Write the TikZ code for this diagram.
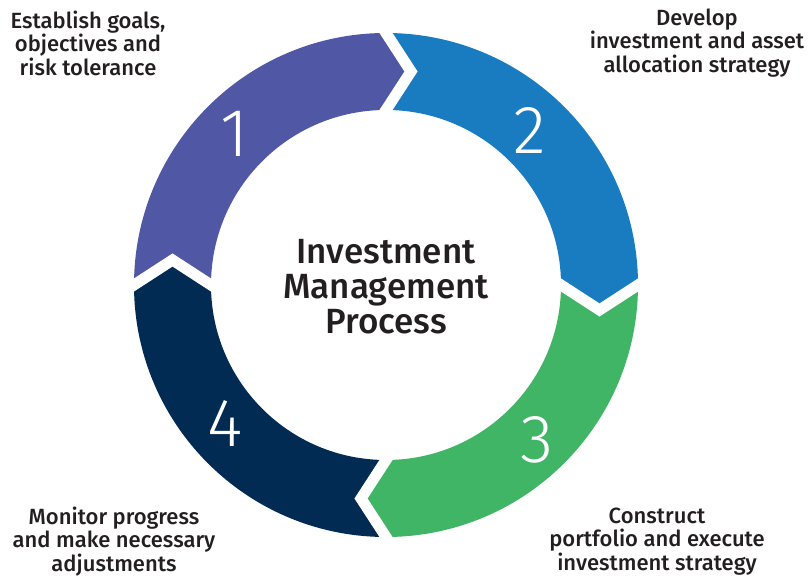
\documentclass[tikz,border=0pt]{standalone}
\usepackage{fontspec}
\setmainfont{Fira Sans}
\newfontfamily\medfont{Fira Sans Medium}
\newfontfamily\lightfont{Fira Sans Light}
\usetikzlibrary{calc}
\definecolor{cpurple}{HTML}{5058A6}
\definecolor{cblue}{HTML}{197CC1}
\definecolor{cgreen}{HTML}{40B565}
\definecolor{cnavy}{HTML}{012B52}
\definecolor{textgray}{HTML}{231F20}
\tikzset{
  lbl/.style={align=center, text=textgray, inner sep=0pt, font=\medfont\fontsize{22}{23.5}\selectfont},
  title/.style={align=center, text=textgray, inner sep=0pt, font=\medfont\fontsize{35}{35}\selectfont},
  digit/.style={text=white, inner sep=0pt, font=\lightfont\fontsize{68}{68}\selectfont},
  chev/.style={white, line width=11pt, line join=miter, shorten <=-8pt, shorten >=-8pt}
}
\newcommand{\ringseg}[3]{%
  \pgfmathsetmacro{\ta}{#2-90}\pgfmathsetmacro{\tb}{#3-90}%
  \fill[#1] ($(C)+(#2:252pt)$) arc[start angle=#2, end angle=#3, radius=252pt]
    -- ($(C)+(#3:213.5pt)+(\tb:25pt)$) -- ($(C)+(#3:175pt)$)
    arc[start angle=#3, end angle=#2, radius=175pt]
    -- ($(C)+(#2:213.5pt)+(\ta:25pt)$) -- cycle;}
\begin{document}
\begin{tikzpicture}[x=1pt,y=1pt]
\path[use as bounding box] (0,0) rectangle (812,577);
\coordinate (C) at (386,292);
\ringseg{cpurple}{180}{90}
\ringseg{cblue}{90}{0}
\ringseg{cgreen}{0}{-90}
\ringseg{cnavy}{-90}{-180}
\foreach \t in {90,0,-90,180}{
  \pgfmathsetmacro{\tt}{\t-90}
  \draw[chev] ($(C)+(\t:252pt)$) -- ($(C)+(\t:213.5pt)+(\tt:25pt)$) -- ($(C)+(\t:175pt)$);
}
\node[digit] (d1) at (235,443) {1};
\node[digit] (d2) at (530,446) {2};
\node[digit] (d3) at (537,137) {3};
\node[digit] (d4) at (225,153) {4};
\node[title] (t) at (386,290) {Investment\\Management\\Process};
\node[lbl] (l1) at (88,534) {Establish goals,\\objectives and\\risk tolerance};
\node[lbl] (l2) at (697,534) {Develop\\investment and asset\\allocation strategy};
\node[lbl] (l3) at (657,35.5) {Construct\\portfolio and execute\\investment strategy};
\node[lbl] (l4) at (114,35.5) {Monitor progress\\and make necessary\\adjustments};
\end{tikzpicture}
\end{document}
